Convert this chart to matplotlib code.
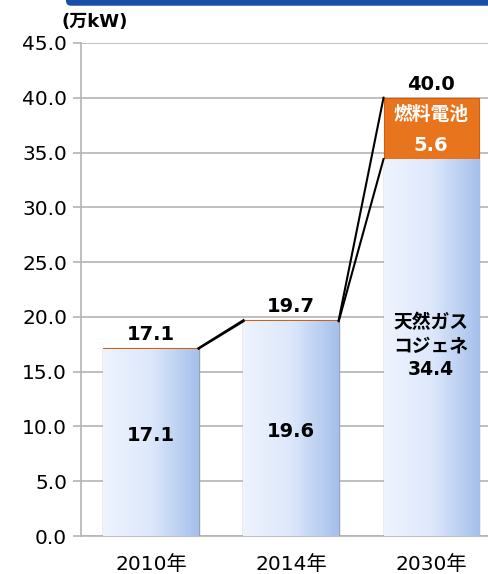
import numpy as np
import matplotlib
matplotlib.use('Agg')
import matplotlib.pyplot as plt
from matplotlib.patches import FancyBboxPatch
from matplotlib.colors import LinearSegmentedColormap

plt.rcParams['font.family'] = ['DejaVu Sans', 'Noto Sans CJK JP']

# データ
years = ['2010年', '2014年', '2030年']
gas = [17.1, 19.6, 34.4]       # 天然ガスコジェネ
fuel = [0.05, 0.1, 5.6]        # 燃料電池
totals = ['17.1', '19.7', '40.0']
yticks = [0, 5, 10, 15, 20, 25, 30, 35, 40, 45]

fig = plt.figure(figsize=(4.88, 5.74), dpi=100)
ax = fig.add_axes([0.166, 0.0662, 0.861, 0.859])

x = np.arange(len(years))
w = 0.68
grid_c = '#b4b4b4'

bars = ax.bar(x, gas, width=w, color='#c9d9f5', edgecolor='#9aa3b5', linewidth=1.0, zorder=3)
ax.bar(x, fuel, width=w, bottom=gas, color='#e8741e', edgecolor='#d06010', linewidth=0.8, zorder=3)

# グラデーション
cmap = LinearSegmentedColormap.from_list('g', ['#eef4fe', '#dde8fb', '#a6c0ec'])
grad = np.linspace(0, 1, 100).reshape(1, -1)
for b in bars:
    im = ax.imshow(grad, cmap=cmap, aspect='auto', zorder=3.5,
                   extent=[b.get_x(), b.get_x() + b.get_width(), 0, b.get_height()])
    im.set_clip_path(b)

# 系列線
tops = [g + f for g, f in zip(gas, fuel)]
for i in range(len(x) - 1):
    ax.plot([x[i] + w / 2, x[i + 1] - w / 2], [gas[i], gas[i + 1]], color='black', lw=1.5, zorder=4)
    ax.plot([x[i] + w / 2, x[i + 1] - w / 2], [tops[i], tops[i + 1]], color='black', lw=1.5, zorder=4)

ax.set_xlim(-0.5, 2.5)
ax.set_ylim(0, 45)
ax.set_yticks(yticks)
ax.set_yticklabels([f'{v:.1f}' for v in yticks], fontsize=14.5)
ax.set_xticks(x)
ax.set_xticklabels(years, fontsize=14.5)
ax.yaxis.grid(True, color=grid_c, lw=1.2, zorder=0)
ax.tick_params(axis='y', length=6, color=grid_c, width=1.2, pad=4)
ax.tick_params(axis='x', length=0, pad=14)
for s in ['top', 'right']:
    ax.spines[s].set_visible(False)
for s in ['left', 'bottom']:
    ax.spines[s].set_color(grid_c)
    ax.spines[s].set_linewidth(1.2)

# ラベル
for i in range(len(x)):
    ax.text(x[i], tops[i] + 0.35, totals[i], ha='center', va='bottom', fontsize=14, fontweight='bold', zorder=5)
ax.text(x[0], 9.2, '17.1', ha='center', va='center', fontsize=14, fontweight='bold', zorder=5)
ax.text(x[1], 9.5, '19.6', ha='center', va='center', fontsize=14, fontweight='bold', zorder=5)
ax.text(x[2], 17.3, '天然ガス\nコジェネ\n34.4', ha='center', va='center', fontsize=13.5,
        fontweight='bold', linespacing=1.3, zorder=5)
ax.text(x[2], 38.5, '燃料電池', ha='center', va='center', fontsize=13.5, fontweight='bold', color='white', zorder=5)
ax.text(x[2], 35.6, '5.6', ha='center', va='center', fontsize=14, fontweight='bold', color='white', zorder=5)

fig.text(0.127, 0.962, '(万kW)', ha='left', va='center', fontsize=13, fontweight='bold')

# 上部の青い帯
fig.patches.append(FancyBboxPatch((0.135, 0.99), 0.9, 0.04, boxstyle='round,pad=0,rounding_size=0.01',
                                  transform=fig.transFigure, facecolor='#1a4fa8', edgecolor='none'))

fig.savefig('out.png', dpi=100)
